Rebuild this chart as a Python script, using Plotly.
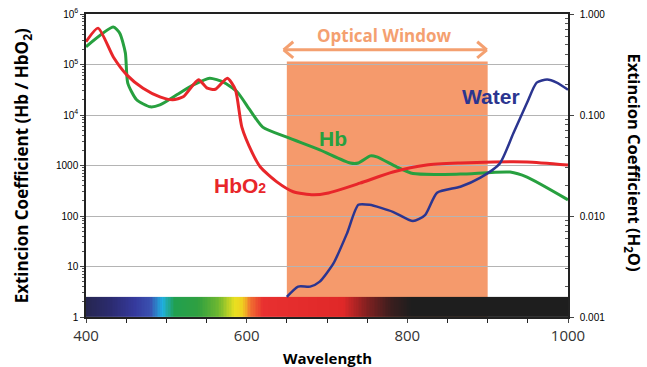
import numpy as np
import plotly.graph_objects as go

# ---------------- data ----------------
hbo2_wl = [400, 415, 434, 451, 471, 492, 508, 521, 540, 551, 561, 576, 586, 594, 607, 617, 638, 658, 683, 700, 741, 782, 824, 866, 907, 949, 1000]
hbo2_val = [282000, 525000, 141000, 61700, 33900, 22900, 20000, 22900, 50100, 33900, 32400, 53700, 31600, 5750, 1780, 933, 468, 302, 263, 282, 447, 741, 1020, 1120, 1175, 1175, 1020]

hb_wl = [400, 434, 442, 449, 452, 463, 480, 492, 513, 533, 554, 571, 588, 604, 620, 650, 691, 729, 739, 754, 762, 787, 807, 866, 928, 949, 1000]
hb_val = [224000, 550000, 417000, 170000, 42700, 20000, 14500, 15800, 25100, 38900, 53700, 44700, 28800, 12600, 5750, 3630, 2040, 1120, 1120, 1550, 1480, 933, 692, 676, 741, 589, 209]

water_wl = [650, 664, 679, 691, 708, 725, 739, 753, 782, 807, 822, 837, 866, 891, 915, 932, 949, 961, 974, 986, 1000]
water_val = [0.00158, 0.0020, 0.0020, 0.00224, 0.00339, 0.00676, 0.0129, 0.0129, 0.011, 0.0089, 0.0102, 0.017, 0.0195, 0.024, 0.033, 0.066, 0.132, 0.209, 0.224, 0.209, 0.178]

left_tickvals = [1, 10, 100, 1000, 1e4, 1e5, 1e6]
left_ticktext = ["1", "10", "100", "1000", "10<sup>4</sup>", "10<sup>5</sup>", "10<sup>6</sup>"]
right_tickvals = [0.001, 0.01, 0.1, 1.0]
right_ticktext = ["0.001", "0.010", "0.100", "1.000"]
x_tickvals = [400, 600, 800, 1000]

window_start, window_end = 650, 900

# spectrum colour stops (wavelength, colour)
spec_wl = [400, 430, 460, 480, 495, 510, 540, 565, 585, 595, 605, 620, 720, 750, 780, 805, 1000]
spec_col = ["#262650", "#2b2b6e", "#35399c", "#3a50b0", "#20b0e0", "#20a050", "#30a040", "#70b830",
            "#e8e020", "#f0d020", "#f07030", "#e83030", "#e02828", "#802020", "#3a1e1e", "#1e1e1e", "#1e1e1e"]

RED = "#e8262a"
GREEN = "#27a03f"
BLUE = "#2b3590"
ORANGE = "#f4a070"
RECT = "#f59a6c"

def minor_vals(lo, hi):
    out = []
    for d in range(lo, hi):
        for m in range(2, 10):
            out.append(m * 10 ** d)
    return out

fig = go.Figure()

# spectrum bar as heatmap
edges = np.arange(400, 1001, 2)
centers = (edges[:-1] + edges[1:]) / 2
cs = [[(w - 400) / 600, c] for w, c in zip(spec_wl, spec_col)]
fig.add_trace(go.Heatmap(x=edges, y=[1, 2.5], z=[centers], colorscale=cs, zmin=400, zmax=1000,
                         showscale=False, hoverinfo="skip"))

fig.add_trace(go.Scatter(x=hb_wl, y=hb_val, mode="lines", line=dict(color=GREEN, width=3, shape="spline", smoothing=0.6), showlegend=False))
fig.add_trace(go.Scatter(x=hbo2_wl, y=hbo2_val, mode="lines", line=dict(color=RED, width=3, shape="spline", smoothing=0.6), showlegend=False))
fig.add_trace(go.Scatter(x=water_wl, y=water_val, mode="lines", yaxis="y2", line=dict(color=BLUE, width=2.5, shape="spline", smoothing=0.6), showlegend=False))

shapes = [
    dict(type="rect", xref="x", yref="y", x0=window_start, x1=window_end, y0=1, y1=10 ** 5.06,
         fillcolor=RECT, line=dict(width=0), layer="below"),
]
ay = 5.29
tip_l, tip_r = 646, 899
for seg in [(tip_l, ay, tip_r, ay),
            (tip_l, ay, tip_l + 12, ay + 0.16), (tip_l, ay, tip_l + 12, ay - 0.16),
            (tip_r, ay, tip_r - 12, ay + 0.16), (tip_r, ay, tip_r - 12, ay - 0.16)]:
    shapes.append(dict(type="line", xref="x", yref="y", x0=seg[0], y0=10 ** seg[1], x1=seg[2], y1=10 ** seg[3],
                       line=dict(color=ORANGE, width=3)))

annotations = [
    dict(x=772, y=5.58, xref="x", yref="y", text="<b>Optical Window</b>", showarrow=False,
         font=dict(family="Open Sans", size=17, color=ORANGE)),
    dict(x=904, y=4.36, xref="x", yref="y", text="<b>Water</b>", showarrow=False,
         font=dict(family="Liberation Sans", size=21, color=BLUE)),
    dict(x=707, y=3.54, xref="x", yref="y", text="<b>Hb</b>", showarrow=False,
         font=dict(family="Liberation Sans", size=21, color=GREEN)),
    dict(x=592, y=2.61, xref="x", yref="y", text="<b>HbO<span style='font-size:14px'>2</span></b>", showarrow=False,
         font=dict(family="Liberation Sans", size=21, color=RED)),
    dict(xref="paper", yref="paper", x=-0.131, y=0.5, xanchor="center", yanchor="middle",
         text="<b>Extincion Coefficient (Hb / HbO<sub>2</sub>)</b>",
         textangle=-90, showarrow=False, font=dict(family="Open Sans", size=17, color="black")),
    dict(xref="paper", yref="paper", x=1.135, y=0.51, xanchor="center", yanchor="middle",
         text="<b>Extincion Coefficient (H<sub>2</sub>O)</b>",
         textangle=90, showarrow=False, font=dict(family="Open Sans", size=16.5, color="black")),
    dict(xref="paper", yref="paper", x=0.5, y=-0.135, yanchor="middle", text="<b>Wavelength</b>",
         showarrow=False, font=dict(family="Open Sans", size=15, color="black")),
]

fig.update_layout(
    width=647, height=367,
    margin=dict(l=86, r=79, t=14, b=50),
    paper_bgcolor="white", plot_bgcolor="white",
    showlegend=False,
    shapes=shapes, annotations=annotations,
    xaxis=dict(range=[400, 1000], tickvals=x_tickvals, ticks="outside", ticklen=4, automargin=False,
               showgrid=False, showline=True, linecolor="#222", linewidth=1.5, mirror=True,
               tickfont=dict(family="Open Sans", size=15, color="#333"),
               minor=dict(ticks="outside", ticklen=4, dtick=50, tickcolor="#222"), zeroline=False),
    yaxis=dict(type="log", range=[0, 6], tickvals=left_tickvals, ticktext=left_ticktext, automargin=False,
               ticks="outside", ticklen=4, showgrid=True, gridcolor="#b4b4b4", gridwidth=1.2,
               showline=True, linecolor="#222", linewidth=1.5,
               tickfont=dict(family="Liberation Sans", size=10, color="black"),
               minor=dict(ticks="outside", ticklen=2, tickcolor="#555", showgrid=False,
                          tickvals=minor_vals(0, 6))),
    yaxis2=dict(type="log", range=[-3, 0], overlaying="y", side="right", tickvals=right_tickvals,
                ticktext=right_ticktext, ticks="outside", ticklen=4, showgrid=False, automargin=False,
                showline=True, linecolor="#222", linewidth=1.5,
                tickfont=dict(family="Liberation Sans", size=10, color="black"),
                ticklabelstandoff=4,
                minor=dict(ticks="inside", ticklen=3, tickcolor="#555", showgrid=False,
                           tickvals=minor_vals(-3, 0))),
)

fig.write_html("out.html", config={"displayModeBar": False},
               post_script="document.body.style.margin='0px';document.body.style.overflow='hidden';")
